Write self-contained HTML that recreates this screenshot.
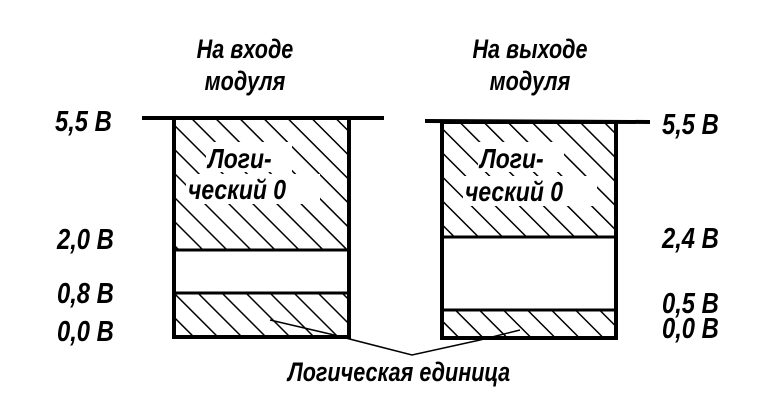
<!DOCTYPE html>
<html><head><meta charset="utf-8"><style>
html,body{margin:0;padding:0;background:#fff}
svg{display:block}
text{font-family:"Liberation Sans","DejaVu Sans",sans-serif;font-style:italic;fill:#000}
</style></head><body>
<svg width="780" height="416" viewBox="0 0 780 416" xmlns="http://www.w3.org/2000/svg">
<defs>
<pattern id="h" patternUnits="userSpaceOnUse" width="17" height="17" patternTransform="rotate(-45)">
<line x1="0" y1="0" x2="0" y2="17" stroke="#000" stroke-width="3"/>
</pattern>
</defs>
<g font-size="27" font-weight="bold">
<text x="245" y="58" text-anchor="middle" transform="translate(245 0) scale(0.8 1) translate(-245 0)">На входе</text>
<text x="245" y="90" text-anchor="middle" transform="translate(245 0) scale(0.8 1) translate(-245 0)">модуля</text>
<text x="530" y="58" text-anchor="middle" transform="translate(530 0) scale(0.8 1) translate(-530 0)">На выходе</text>
<text x="530" y="90" text-anchor="middle" transform="translate(530 0) scale(0.8 1) translate(-530 0)">модуля</text>
</g>

<rect x="174" y="118" width="175" height="132" fill="url(#h)"/>
<rect x="174" y="293" width="175" height="44" fill="url(#h)"/>
<line x1="142" y1="118" x2="384" y2="118" stroke="#000" stroke-width="4"/>
<rect x="174" y="118" width="175" height="219" fill="none" stroke="#000" stroke-width="4"/>
<line x1="174" y1="250" x2="349" y2="250" stroke="#000" stroke-width="3"/>
<line x1="174" y1="293" x2="349" y2="293" stroke="#000" stroke-width="3"/>

<rect x="442" y="122" width="174" height="115" fill="url(#h)"/>
<rect x="442" y="310" width="174" height="28" fill="url(#h)"/>
<line x1="425" y1="121" x2="650" y2="122" stroke="#000" stroke-width="4"/>
<rect x="442" y="122" width="174" height="216" fill="none" stroke="#000" stroke-width="4"/>
<line x1="442" y1="237" x2="616" y2="237" stroke="#000" stroke-width="3"/>
<line x1="442" y1="310" x2="616" y2="310" stroke="#000" stroke-width="3"/>

<g font-size="28" font-weight="bold">
<rect x="206" y="142" width="86" height="30" fill="#fff"/>
<rect x="186" y="174" width="134" height="30" fill="#fff"/>
<text x="208" y="168" transform="translate(208 0) scale(0.82 1) translate(-208 0)">Логи-</text>
<text x="188" y="199" transform="translate(188 0) scale(0.82 1) translate(-188 0)">ческий 0</text>
<rect x="478" y="142" width="86" height="30" fill="#fff"/>
<rect x="463" y="176" width="134" height="30" fill="#fff"/>
<text x="480" y="168" transform="translate(480 0) scale(0.82 1) translate(-480 0)">Логи-</text>
<text x="465" y="201" transform="translate(465 0) scale(0.82 1) translate(-465 0)">ческий 0</text>
</g>

<polyline points="270,320 330,334 412,355 480,340 520,330" fill="none" stroke="#000" stroke-width="1.5"/>
<text x="399" y="381" font-size="27" font-weight="bold" text-anchor="middle" transform="translate(399 0) scale(0.8 1) translate(-399 0)">Логическая единица</text>

<g font-size="29" font-weight="bold">
<text x="55" y="131" transform="translate(55 0) scale(0.82 1) translate(-55 0)">5,5 В</text>
<text x="57" y="249" transform="translate(57 0) scale(0.82 1) translate(-57 0)">2,0 В</text>
<text x="57" y="303" transform="translate(57 0) scale(0.82 1) translate(-57 0)">0,8 В</text>
<text x="57" y="341" transform="translate(57 0) scale(0.82 1) translate(-57 0)">0,0 В</text>
<text x="662" y="134" transform="translate(662 0) scale(0.82 1) translate(-662 0)">5,5 В</text>
<text x="662" y="248" transform="translate(662 0) scale(0.82 1) translate(-662 0)">2,4 В</text>
<text x="662" y="313" transform="translate(662 0) scale(0.82 1) translate(-662 0)">0,5 В</text>
<text x="662" y="338" transform="translate(662 0) scale(0.82 1) translate(-662 0)">0,0 В</text>
</g>
</svg>
</body></html>
